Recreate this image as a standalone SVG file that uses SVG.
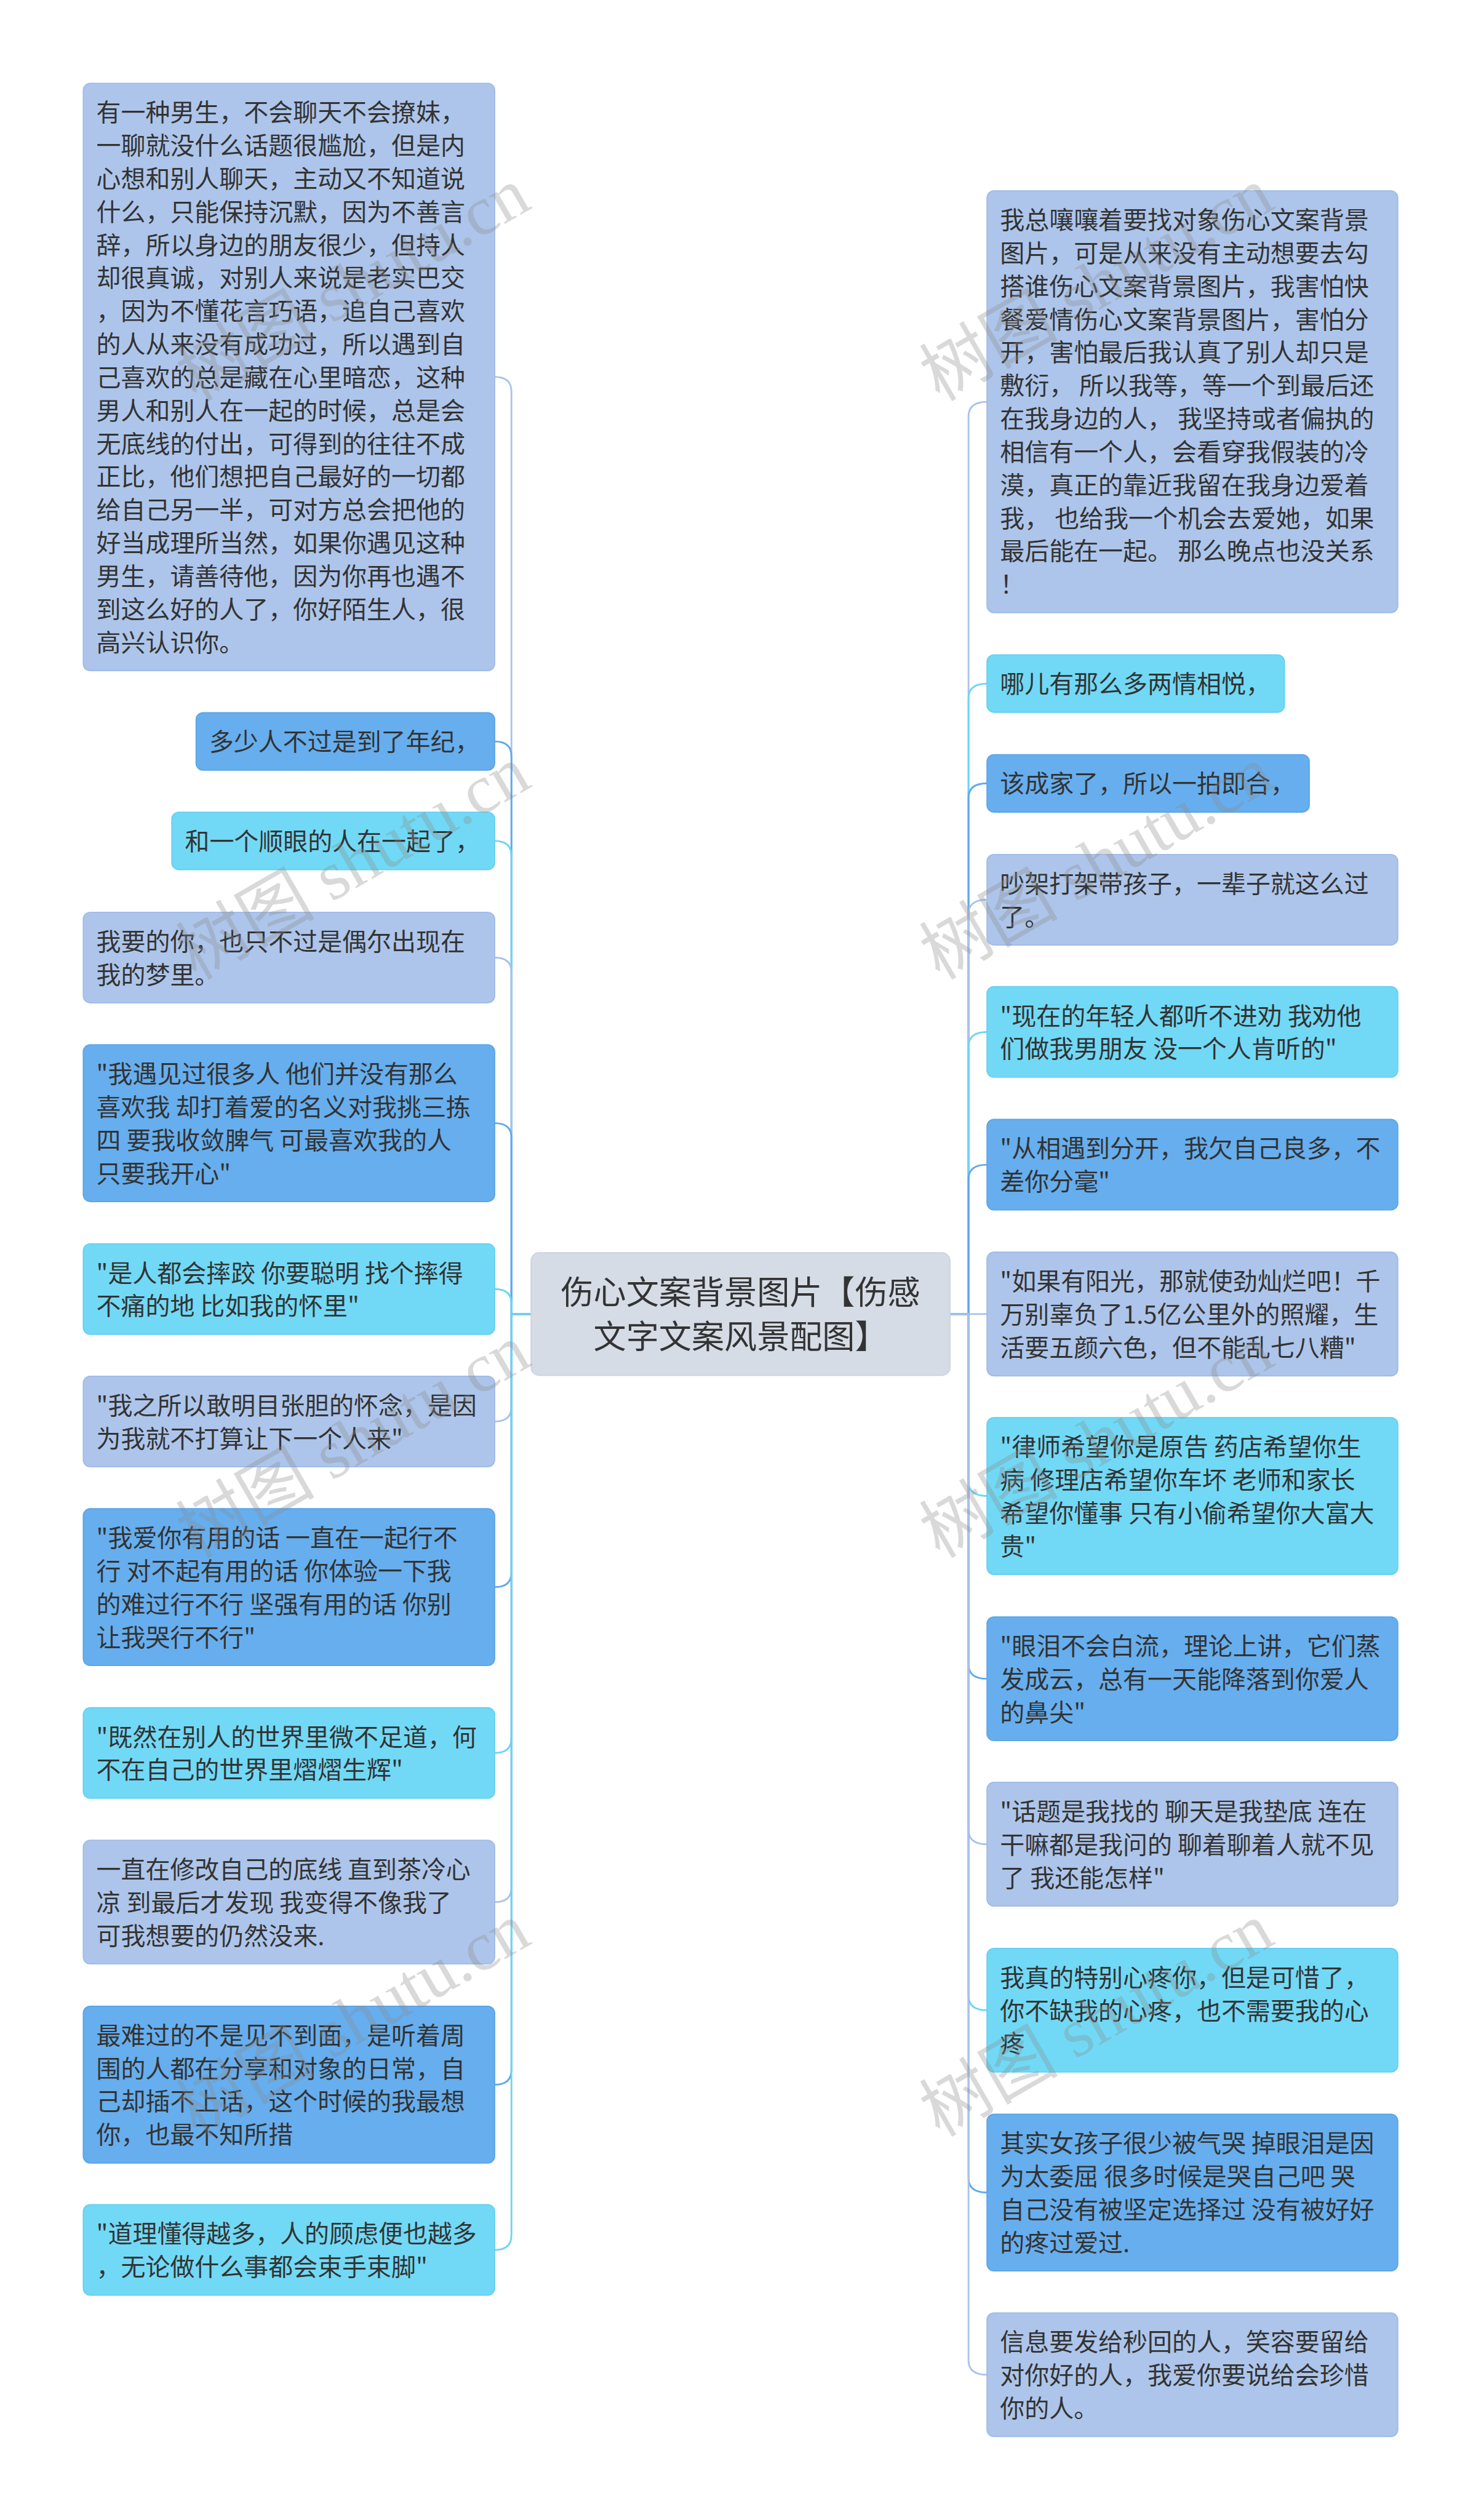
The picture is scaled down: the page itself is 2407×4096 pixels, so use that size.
<svg xmlns="http://www.w3.org/2000/svg" width="2407" height="4096" viewBox="0 0 2407 4096">
<style>
.n rect{stroke-width:2}
.peri rect{fill:#adc5ea;stroke:#a0bbe6}
.blue rect{fill:#66aeee;stroke:#5ba5e8}
.cyan rect{fill:#71d9f6;stroke:#66d0f0}
.root rect{fill:#d5dce6;stroke:#ccd4e0}
.n text{font-family:"Noto Sans CJK SC","Microsoft YaHei",sans-serif;font-size:42.5px;fill:#333333}
.root text{font-size:56.5px;text-anchor:middle}
.c path{fill:none;stroke-width:3}
.c .p{stroke:#a9c2eb}
.c .b{stroke:#5fa9ec}
.c .y{stroke:#6cd5f4}
.wm text{font-family:"Liberation Serif","Noto Sans CJK SC",serif;font-size:120px;fill:#8c8c8c;opacity:0.32}
</style>
<rect width="2407" height="4096" fill="#ffffff"/>
<g transform="scale(0.9403)">
<g class="c" id="connectors">
<path class="p" d="M918 2271.5H884V677Q884 651.6 855 651.6"/>
<path class="b" d="M918 2271.5H884V1307Q884 1281.6 855 1281.6"/>
<path class="y" d="M918 2271.5H884V1479Q884 1453.6 855 1453.6"/>
<path class="p" d="M918 2271.5H884V1680Q884 1655.3 855 1655.3"/>
<path class="b" d="M918 2271.5H884V1966Q884 1941.5 855 1941.5"/>
<path class="y" d="M918 2271.5H884V2253Q884 2228.3 855 2228.3"/>
<path class="p" d="M918 2271.5H884V2432Q884 2457.3 855 2457.3"/>
<path class="b" d="M918 2271.5H884V2718Q884 2743.5 855 2743.5"/>
<path class="y" d="M918 2271.5H884V3005Q884 3030.3 855 3030.3"/>
<path class="p" d="M918 2271.5H884V3263Q884 3287.9 855 3287.9"/>
<path class="b" d="M918 2271.5H884V3578Q884 3603.5 855 3603.5"/>
<path class="y" d="M918 2271.5H884V3864Q884 3889.3 855 3889.3"/>
<path class="p" d="M1642 2271.5H1674V720Q1674 694.5 1706 694.5"/>
<path class="y" d="M1642 2271.5H1674V1207Q1674 1181.6 1706 1181.6"/>
<path class="b" d="M1642 2271.5H1674V1379Q1674 1354.1 1706 1354.1"/>
<path class="p" d="M1642 2271.5H1674V1580Q1674 1555.3 1706 1555.3"/>
<path class="y" d="M1642 2271.5H1674V1809Q1674 1783.8 1706 1783.8"/>
<path class="b" d="M1642 2271.5H1674V2038Q1674 2013.3 1706 2013.3"/>
<path class="p" d="M1642 2271.5H1706"/>
<path class="y" d="M1642 2271.5H1674V2561Q1674 2586 1706 2586"/>
<path class="b" d="M1642 2271.5H1674V2877Q1674 2901.9 1706 2901.9"/>
<path class="p" d="M1642 2271.5H1674V3163Q1674 3187.9 1706 3187.9"/>
<path class="y" d="M1642 2271.5H1674V3450Q1674 3474.9 1706 3474.9"/>
<path class="b" d="M1642 2271.5H1674V3765Q1674 3790 1706 3790"/>
<path class="p" d="M1642 2271.5H1674V4080Q1674 4104.9 1706 4104.9"/>
</g>

<g id="root" class="n root">
<rect x="918" y="2165.5" width="724" height="212" rx="14"/>
<text><tspan x="1280" y="2255">伤心文案背景图片【伤感</tspan><tspan x="1280" y="2331">文字文案风景配图】</tspan></text>
</g>

<g id="L1" class="n peri">
<rect x="144" y="144" width="711" height="1015.25" rx="12"/>
<text><tspan x="166.5" y="209.8">有一种男生，不会聊天不会撩妹，</tspan><tspan x="166.5" y="267.05">一聊就没什么话题很尴尬，但是内</tspan><tspan x="166.5" y="324.3">心想和别人聊天，主动又不知道说</tspan><tspan x="166.5" y="381.55">什么，只能保持沉默，因为不善言</tspan><tspan x="166.5" y="438.8">辞，所以身边的朋友很少，但持人</tspan><tspan x="166.5" y="496.05">却很真诚，对别人来说是老实巴交</tspan><tspan x="166.5" y="553.3">，因为不懂花言巧语，追自己喜欢</tspan><tspan x="166.5" y="610.55">的人从来没有成功过，所以遇到自</tspan><tspan x="166.5" y="667.8">己喜欢的总是藏在心里暗恋，这种</tspan><tspan x="166.5" y="725.05">男人和别人在一起的时候，总是会</tspan><tspan x="166.5" y="782.3">无底线的付出，可得到的往往不成</tspan><tspan x="166.5" y="839.55">正比，他们想把自己最好的一切都</tspan><tspan x="166.5" y="896.8">给自己另一半，可对方总会把他的</tspan><tspan x="166.5" y="954.05">好当成理所当然，如果你遇见这种</tspan><tspan x="166.5" y="1011.3">男生，请善待他，因为你再也遇不</tspan><tspan x="166.5" y="1068.55">到这么好的人了，你好陌生人，很</tspan><tspan x="166.5" y="1125.8">高兴认识你。</tspan></text>
</g>
<g id="L2" class="n blue">
<rect x="339" y="1232" width="516" height="99.25" rx="12"/>
<text><tspan x="361.5" y="1297.8">多少人不过是到了年纪，</tspan></text>
</g>
<g id="L3" class="n cyan">
<rect x="297" y="1404" width="558" height="99.25" rx="12"/>
<text><tspan x="319.5" y="1469.8">和一个顺眼的人在一起了，</tspan></text>
</g>
<g id="L4" class="n peri">
<rect x="144" y="1577" width="711" height="156.5" rx="12"/>
<text><tspan x="166.5" y="1642.8">我要的你，也只不过是偶尔出现在</tspan><tspan x="166.5" y="1700.05">我的梦里。</tspan></text>
</g>
<g id="L5" class="n blue">
<rect x="144" y="1806" width="711" height="271" rx="12"/>
<text><tspan x="166.5" y="1871.8">"我遇见过很多人 他们并没有那么</tspan><tspan x="166.5" y="1929.05">喜欢我 却打着爱的名义对我挑三拣</tspan><tspan x="166.5" y="1986.3">四 要我收敛脾气 可最喜欢我的人</tspan><tspan x="166.5" y="2043.55">只要我开心"</tspan></text>
</g>
<g id="L6" class="n cyan">
<rect x="144" y="2150" width="711" height="156.5" rx="12"/>
<text><tspan x="166.5" y="2215.8">"是人都会摔跤 你要聪明 找个摔得</tspan><tspan x="166.5" y="2273.05">不痛的地 比如我的怀里"</tspan></text>
</g>
<g id="L7" class="n peri">
<rect x="144" y="2379" width="711" height="156.5" rx="12"/>
<text><tspan x="166.5" y="2444.8">"我之所以敢明目张胆的怀念，是因</tspan><tspan x="166.5" y="2502.05">为我就不打算让下一个人来"</tspan></text>
</g>
<g id="L8" class="n blue">
<rect x="144" y="2608" width="711" height="271" rx="12"/>
<text><tspan x="166.5" y="2673.8">"我爱你有用的话 一直在一起行不</tspan><tspan x="166.5" y="2731.05">行 对不起有用的话 你体验一下我</tspan><tspan x="166.5" y="2788.3">的难过行不行 坚强有用的话 你别</tspan><tspan x="166.5" y="2845.55">让我哭行不行"</tspan></text>
</g>
<g id="L9" class="n cyan">
<rect x="144" y="2952" width="711" height="156.5" rx="12"/>
<text><tspan x="166.5" y="3017.8">"既然在别人的世界里微不足道，何</tspan><tspan x="166.5" y="3075.05">不在自己的世界里熠熠生辉"</tspan></text>
</g>
<g id="L10" class="n peri">
<rect x="144" y="3181" width="711" height="213.75" rx="12"/>
<text><tspan x="166.5" y="3246.8">一直在修改自己的底线 直到茶冷心</tspan><tspan x="166.5" y="3304.05">凉 到最后才发现 我变得不像我了</tspan><tspan x="166.5" y="3361.3">可我想要的仍然没来.</tspan></text>
</g>
<g id="L11" class="n blue">
<rect x="144" y="3468" width="711" height="271" rx="12"/>
<text><tspan x="166.5" y="3533.8">最难过的不是见不到面，是听着周</tspan><tspan x="166.5" y="3591.05">围的人都在分享和对象的日常，自</tspan><tspan x="166.5" y="3648.3">己却插不上话，这个时候的我最想</tspan><tspan x="166.5" y="3705.55">你，也最不知所措</tspan></text>
</g>
<g id="L12" class="n cyan">
<rect x="144" y="3811" width="711" height="156.5" rx="12"/>
<text><tspan x="166.5" y="3876.8">"道理懂得越多，人的顾虑便也越多</tspan><tspan x="166.5" y="3934.05">，无论做什么事都会束手束脚"</tspan></text>
</g>

<g id="R1" class="n peri">
<rect x="1706" y="330" width="710" height="729" rx="12"/>
<text><tspan x="1728.5" y="395.8">我总嚷嚷着要找对象伤心文案背景</tspan><tspan x="1728.5" y="453.05">图片，可是从来没有主动想要去勾</tspan><tspan x="1728.5" y="510.3">搭谁伤心文案背景图片，我害怕快</tspan><tspan x="1728.5" y="567.55">餐爱情伤心文案背景图片，害怕分</tspan><tspan x="1728.5" y="624.8">开，害怕最后我认真了别人却只是</tspan><tspan x="1728.5" y="682.05">敷衍， 所以我等，等一个到最后还</tspan><tspan x="1728.5" y="739.3">在我身边的人， 我坚持或者偏执的</tspan><tspan x="1728.5" y="796.55">相信有一个人，会看穿我假装的冷</tspan><tspan x="1728.5" y="853.8">漠，真正的靠近我留在我身边爱着</tspan><tspan x="1728.5" y="911.05">我， 也给我一个机会去爱她，如果</tspan><tspan x="1728.5" y="968.3">最后能在一起。 那么晚点也没关系</tspan><tspan x="1728.5" y="1025.55">！</tspan></text>
</g>
<g id="R2" class="n cyan">
<rect x="1706" y="1132" width="514" height="99.25" rx="12"/>
<text><tspan x="1728.5" y="1197.8">哪儿有那么多两情相悦，</tspan></text>
</g>
<g id="R3" class="n blue">
<rect x="1706" y="1304.5" width="557" height="99.25" rx="12"/>
<text><tspan x="1728.5" y="1370.3">该成家了，所以一拍即合，</tspan></text>
</g>
<g id="R4" class="n peri">
<rect x="1706" y="1477" width="710" height="156.5" rx="12"/>
<text><tspan x="1728.5" y="1542.8">吵架打架带孩子，一辈子就这么过</tspan><tspan x="1728.5" y="1600.05">了。</tspan></text>
</g>
<g id="R5" class="n cyan">
<rect x="1706" y="1705.5" width="710" height="156.5" rx="12"/>
<text><tspan x="1728.5" y="1771.3">"现在的年轻人都听不进劝 我劝他</tspan><tspan x="1728.5" y="1828.55">们做我男朋友 没一个人肯听的"</tspan></text>
</g>
<g id="R6" class="n blue">
<rect x="1706" y="1935" width="710" height="156.5" rx="12"/>
<text><tspan x="1728.5" y="2000.8">"从相遇到分开，我欠自己良多，不</tspan><tspan x="1728.5" y="2058.05">差你分毫"</tspan></text>
</g>
<g id="R7" class="n peri">
<rect x="1706" y="2164.5" width="710" height="213.75" rx="12"/>
<text><tspan x="1728.5" y="2230.3">"如果有阳光，那就使劲灿烂吧！千</tspan><tspan x="1728.5" y="2287.55">万别辜负了1.5亿公里外的照耀，生</tspan><tspan x="1728.5" y="2344.8">活要五颜六色，但不能乱七八糟"</tspan></text>
</g>
<g id="R8" class="n cyan">
<rect x="1706" y="2450.5" width="710" height="271" rx="12"/>
<text><tspan x="1728.5" y="2516.3">"律师希望你是原告 药店希望你生</tspan><tspan x="1728.5" y="2573.55">病 修理店希望你车坏 老师和家长</tspan><tspan x="1728.5" y="2630.8">希望你懂事 只有小偷希望你大富大</tspan><tspan x="1728.5" y="2688.05">贵"</tspan></text>
</g>
<g id="R9" class="n blue">
<rect x="1706" y="2795" width="710" height="213.75" rx="12"/>
<text><tspan x="1728.5" y="2860.8">"眼泪不会白流，理论上讲，它们蒸</tspan><tspan x="1728.5" y="2918.05">发成云，总有一天能降落到你爱人</tspan><tspan x="1728.5" y="2975.3">的鼻尖"</tspan></text>
</g>
<g id="R10" class="n peri">
<rect x="1706" y="3081" width="710" height="213.75" rx="12"/>
<text><tspan x="1728.5" y="3146.8">"话题是我找的 聊天是我垫底 连在</tspan><tspan x="1728.5" y="3204.05">干嘛都是我问的 聊着聊着人就不见</tspan><tspan x="1728.5" y="3261.3">了 我还能怎样"</tspan></text>
</g>
<g id="R11" class="n cyan">
<rect x="1706" y="3368" width="710" height="213.75" rx="12"/>
<text><tspan x="1728.5" y="3433.8">我真的特别心疼你，但是可惜了，</tspan><tspan x="1728.5" y="3491.05">你不缺我的心疼，也不需要我的心</tspan><tspan x="1728.5" y="3548.3">疼</tspan></text>
</g>
<g id="R12" class="n blue">
<rect x="1706" y="3654.5" width="710" height="271" rx="12"/>
<text><tspan x="1728.5" y="3720.3">其实女孩子很少被气哭 掉眼泪是因</tspan><tspan x="1728.5" y="3777.55">为太委屈 很多时候是哭自己吧 哭</tspan><tspan x="1728.5" y="3834.8">自己没有被坚定选择过 没有被好好</tspan><tspan x="1728.5" y="3892.05">的疼过爱过.</tspan></text>
</g>
<g id="R13" class="n peri">
<rect x="1706" y="3998" width="710" height="213.75" rx="12"/>
<text><tspan x="1728.5" y="4063.8">信息要发给秒回的人，笑容要留给</tspan><tspan x="1728.5" y="4121.05">对你好的人，我爱你要说给会珍惜</tspan><tspan x="1728.5" y="4178.3">你的人。</tspan></text>
</g>

<g class="wm" id="watermark">
<text x="339" y="695" transform="rotate(-30 339 695)">树图 shutu.cn</text>
<text x="339" y="1695" transform="rotate(-30 339 1695)">树图 shutu.cn</text>
<text x="339" y="2695" transform="rotate(-30 339 2695)">树图 shutu.cn</text>
<text x="339" y="3695" transform="rotate(-30 339 3695)">树图 shutu.cn</text>
<text x="1624" y="695" transform="rotate(-30 1624 695)">树图 shutu.cn</text>
<text x="1624" y="1695" transform="rotate(-30 1624 1695)">树图 shutu.cn</text>
<text x="1624" y="2695" transform="rotate(-30 1624 2695)">树图 shutu.cn</text>
<text x="1624" y="3695" transform="rotate(-30 1624 3695)">树图 shutu.cn</text>
</g>
</g>
</svg>
